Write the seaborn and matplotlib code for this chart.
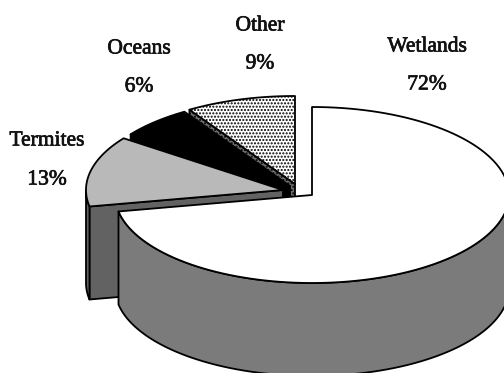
import numpy as np
import matplotlib
matplotlib.use("Agg")
import matplotlib.pyplot as plt
import matplotlib.patheffects as pe
from matplotlib.patches import Polygon
import seaborn as sns

sources = ["Wetlands", "Termites", "Oceans", "Other"]
shares = [72, 13, 6, 9]

sns.set_theme(style="white")
plt.rcParams["font.family"] = ["Liberation Serif", "DejaVu Serif"]
plt.rcParams["hatch.linewidth"] = 1.0

RX, RY, DEPTH = 197.0, 88.0, 93.0

# (apex x, apex y) of every exploded slice, in canvas pixels
apex = {"Wetlands": (312, 195), "Termites": (283, 190),
        "Oceans": (290, 186), "Other": (295, 184)}
top_colour = {"Wetlands": "white", "Termites": "#b9b9b9",
              "Oceans": "black", "Other": "white"}
wall_colour = {"Wetlands": "#7b7b7b", "Termites": "#626262",
               "Oceans": "black", "Other": "#6e6e6e"}
hatches = {"Other": "....."}
label_xy = {"Wetlands": (427, 47, 85), "Termites": (47, 141, 180),
            "Oceans": (139, 49, 87), "Other": (260, 26, 64)}

fig = plt.figure(figsize=(5.04, 3.73), dpi=100, facecolor="white")
ax = fig.add_axes([0, 0, 1, 1])
ax.set_xlim(0, 504)
ax.set_ylim(373, 0)
ax.axis("off")


def rim(cx, cy, a0, a1, n=120):
    """Points on the elliptical rim, angles clockwise from twelve o'clock."""
    t = np.radians(np.linspace(a0, a1, n))
    return np.column_stack([cx + RX * np.sin(t), cy - RY * np.cos(t)])


def poly(points, face, hatch=None, lw=1.3, z=1):
    ax.add_patch(Polygon(points, closed=True, facecolor=face, edgecolor="black",
                         hatch=hatch, linewidth=lw, joinstyle="round", zorder=z))


def slab(name, a0, a1, z):
    cx, cy = apex[name]
    wall = wall_colour[name]
    hatch = hatches.get(name)
    down = np.array([0, DEPTH])
    centre = np.array([cx, cy], dtype=float)

    # leading cut face; the trailing one looks away from the viewer
    if a0 > 0:
        edge = rim(cx, cy, a0, a0, 1)[0]
        poly([centre, edge, edge + down, centre + down], wall, hatch, z=z)

    # outer wall, only the part facing the viewer
    lo, hi = max(a0, 90), min(a1, 270)
    if hi > lo:
        arc = rim(cx, cy, lo, hi)
        poly(np.vstack([arc, (arc + down)[::-1]]), wall, hatch, z=z)

    # top face
    arc = rim(cx, cy, a0, a1)
    poly(np.vstack([centre, arc]), top_colour[name], hatch, z=z + 0.5)


# slices run clockwise from twelve o'clock; painted back to front
bounds = np.concatenate([[0], np.cumsum(shares)]) * 3.6
spans = {s: (bounds[i], bounds[i + 1]) for i, s in enumerate(sources)}
for z, name in enumerate(["Other", "Oceans", "Termites", "Wetlands"], start=1):
    slab(name, *spans[name], z=z)

heavier = [pe.withStroke(linewidth=0.5, foreground="#111111")]
for name, share in zip(sources, shares):
    x, y0, y1 = label_xy[name]
    ax.text(x, y0, name, ha="center", va="center", fontsize=15.5,
            color="#111111", zorder=10, path_effects=heavier)
    ax.text(x, y1, f"{share}%", ha="center", va="center", fontsize=15.5,
            color="#111111", zorder=10, path_effects=heavier)

fig.savefig("out.png", dpi=100, facecolor="white")
